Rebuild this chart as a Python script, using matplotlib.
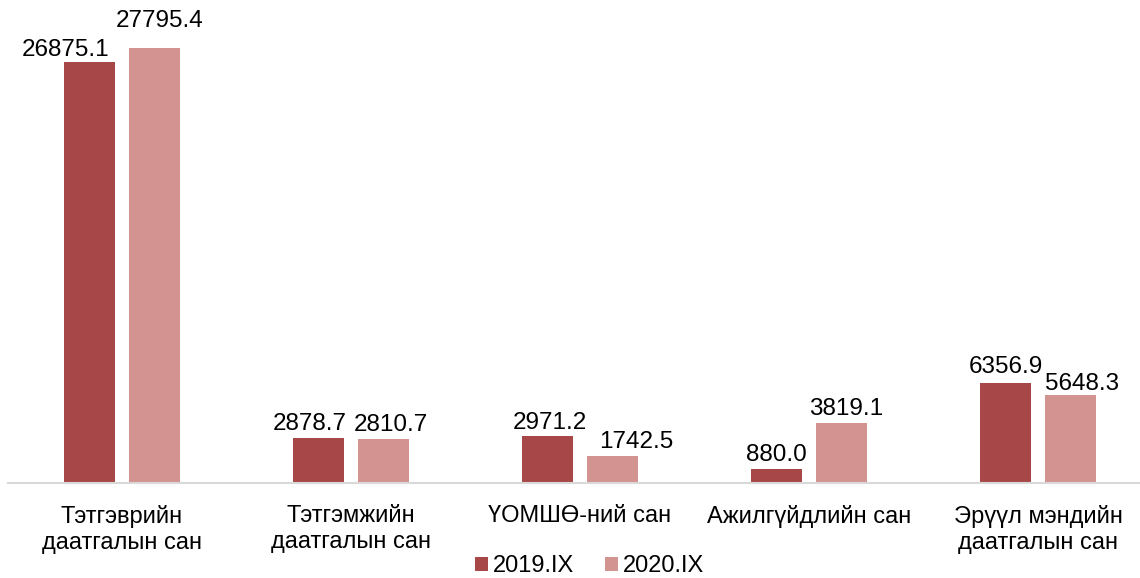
import numpy as np
import matplotlib.pyplot as plt

plt.rcParams['font.family'] = ['Liberation Sans', 'DejaVu Sans']

# Data
categories = ['Тэтгэврийн\nдаатгалын сан', 'Тэтгэмжийн\nдаатгалын сан', 'ҮОМШӨ-ний сан',
              'Ажилгүйдлийн сан', 'Эрүүл мэндийн\nдаатгалын сан']
series_names = ['2019.IX', '2020.IX']
values_2019 = [26875.1, 2878.7, 2971.2, 880.0, 6356.9]
values_2020 = [27795.4, 2810.7, 1742.5, 3819.1, 5648.3]

colors = ['#A84747', '#D39391']
# label shifts (points, x and y) like the original's overlap avoidance
shift_2019 = [(-17, 1), (-6, 2), (2, 2), (0, 2), (0, 4)]
shift_2020 = [(4, 11), (5, 2), (17, 2), (3, 2), (8, 0)]

fig = plt.figure(figsize=(11.4, 5.78), dpi=100)
ax = fig.add_axes([7.5 / 1140, 95 / 578, 1145 / 1140, 470 / 578])

x = np.arange(len(categories))
w = 0.223
off = 0.142
b1 = ax.bar(x - off, values_2019, w, color=colors[0], label=series_names[0])
b2 = ax.bar(x + off, values_2020, w, color=colors[1], label=series_names[1])

for bars, vals, shifts in [(b1, values_2019, shift_2019), (b2, values_2020, shift_2020)]:
    for r, v, s in zip(bars, vals, shifts):
        ax.annotate(f'{v:.1f}', (r.get_x() + r.get_width() / 2, r.get_height()),
                    xytext=s, textcoords='offset points',
                    ha='center', va='bottom', fontsize=17.5, color='black')

ax.set_xlim(-0.5, 4.5)
ax.set_ylim(0, 30000)
ax.set_xticks(x)
ax.set_xticklabels(categories, fontsize=17, linespacing=1.2)
ax.tick_params(axis='x', length=0, pad=16)
ax.set_yticks([])
for s in ['top', 'right', 'left']:
    ax.spines[s].set_visible(False)
ax.spines['bottom'].set_color('#D9D9D9')
ax.spines['bottom'].set_linewidth(1.5)

fig.legend(handles=[b1, b2], labels=series_names, loc='center',
           bbox_to_anchor=(0.517, 0.02), ncol=2, frameon=False, fontsize=17,
           handlelength=0.55, handleheight=0.55, handletextpad=0.2, columnspacing=1.3,
           borderpad=0.1)

fig.savefig('out.png', dpi=100)
